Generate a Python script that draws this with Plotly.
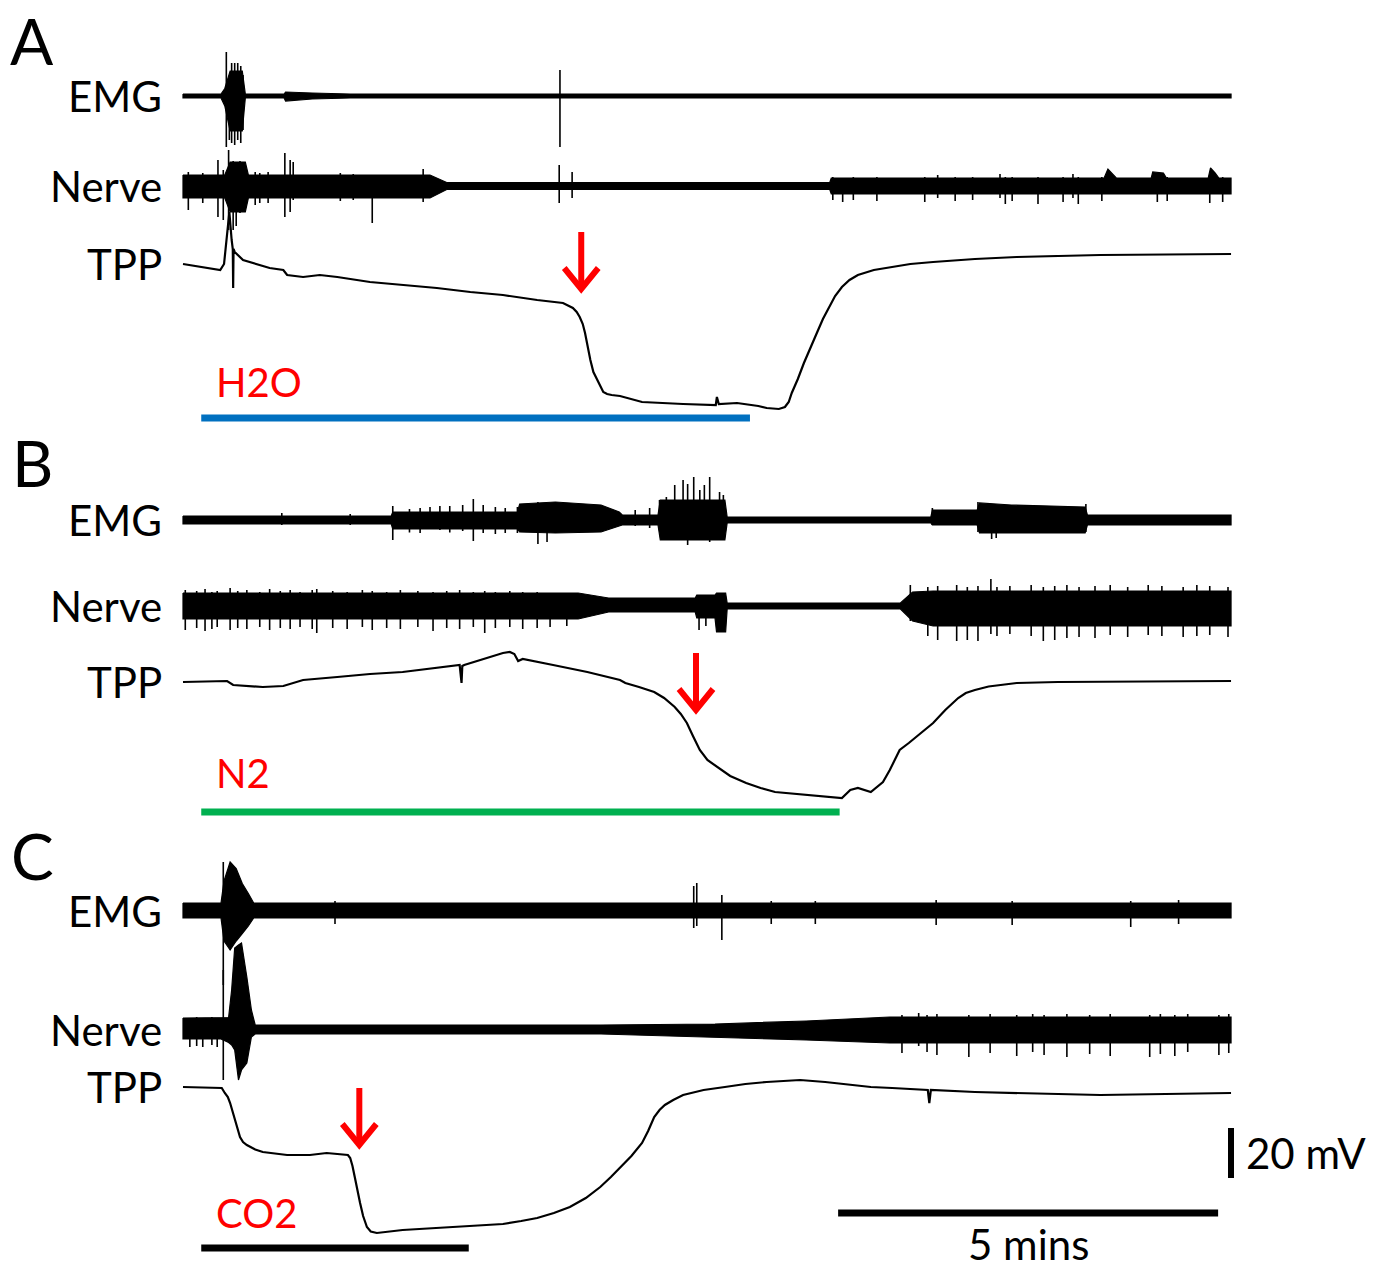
import plotly.graph_objects as go

# ---------------- DATA (time in minutes, voltage in mV relative to each trace's baseline) ----------------
# ---- Panel A (H2O) ----
A_TPP_T = [0, 0.49, 0.54, 0.58, 0.61, 0.64, 0.655, 0.66, 0.665, 0.68, 0.79, 1.14, 1.32, 1.37, 1.58, 1.80,
           2.03, 2.46, 2.89, 3.34, 3.78, 4.21, 4.66, 5.00, 5.13, 5.18, 5.22, 5.26, 5.29, 5.32, 5.36, 5.40,
           5.45, 5.49, 5.53, 5.58, 5.64, 5.75, 6.04, 6.58, 7.01, 7.025, 7.05, 7.29, 7.57, 7.68, 7.76, 7.84,
           7.92, 7.97, 8.01, 8.09, 8.17, 8.25, 8.34, 8.42, 8.50, 8.58, 8.67, 8.77, 8.88, 9.09, 9.33, 9.57,
           9.87, 10.42, 10.97, 12.07, 13.79]
A_TPP_V = [0, -2.4, 0, 12.0, 20.8, 9.6, 6.0, -9.6, 6.0, 4.8, 1.6, -1.6, -2.4, -4.4, -5.2, -4.4,
           -5.2, -7.2, -8.4, -9.6, -11.2, -12.4, -14.4, -15.6, -17.6, -19.2, -21.2, -24.0, -27.6, -32.4, -38.4, -43.2,
           -46.4, -49.2, -51.2, -52.0, -52.4, -52.8, -55.2, -56.0, -56.4, -53.2, -56.0, -55.6, -56.8, -57.6, -57.8, -58.0,
           -57.2, -55.2, -51.6, -46.0, -39.6, -33.6, -27.6, -22.0, -17.2, -12.8, -9.2, -6.4, -4.4, -2.4, -1.2, 0.0,
           0.8, 2.0, 2.8, 3.6, 4.0]

A_EMG_T = [0, 0.50, 0.55, 0.62, 0.78, 0.82, 1.33, 1.35, 1.7, 2.2, 13.79]
A_EMG_HI = [0.8, 0.8, 3.0, 10.0, 10.0, 0.8, 0.8, 1.6, 1.2, 0.8, 0.8]
A_EMG_LO = [-0.8, -0.8, -4.0, -14.0, -14.0, -0.8, -0.8, -2.0, -1.2, -0.8, -0.8]
A_EMG_SPK_T = [0.57, 0.61, 0.64, 0.68, 0.72, 0.76, 0.79, 4.96]
A_EMG_SPK_HI = [17.6, 6.4, 13.2, 13.2, 13.2, 12.0, 8.4, 10.4]
A_EMG_SPK_LO = [-20.4, -17.6, -18.8, -19.6, -17.6, -18.8, -13.6, -20.4]

A_NRV_T = [0, 0.55, 0.62, 0.82, 0.86, 3.25, 3.47, 8.51, 8.53, 12.12, 12.17, 12.22, 12.28, 12.74, 12.76,
           12.90, 12.94, 13.49, 13.52, 13.58, 13.63, 13.79]
A_NRV_HI = [4.4, 4.4, 9.6, 9.6, 4.4, 4.4, 1.4, 1.4, 3.2, 3.2, 6.8, 5.2, 3.2, 3.2, 5.6,
            5.2, 3.2, 3.2, 7.2, 5.2, 3.2, 3.2]
A_NRV_LO = [-4.8, -4.8, -10.4, -10.4, -4.8, -4.8, -1.4, -1.4, -3.2, -3.2, -3.2, -3.2, -3.2, -3.2, -3.2,
            -3.2, -3.2, -3.2, -3.2, -3.2, -3.2, -3.2]
A_NRV_SPK_T = [0.07, 0.26, 0.46, 0.53, 0.60, 0.66, 0.70, 0.75, 0.95, 1.01, 1.12, 1.34, 1.41, 1.45, 2.07,
               2.24, 2.49, 3.16, 4.95, 5.12, 8.55, 8.68, 8.82, 9.13, 9.76, 9.93, 10.16, 10.39, 10.75, 10.82,
               10.91, 11.25, 11.58, 11.71, 11.78, 12.09, 12.82, 12.95, 13.51, 13.68]
A_NRV_SPK_HI = [5.6, 5.2, 10.4, 6.4, 14.4, 10.0, 9.6, 10.0, 5.6, 5.2, 5.6, 13.2, 10.4, 9.6, 5.2,
                4.8, 2.4, 6.8, 8.4, 5.6, 3.6, 3.2, 3.6, 3.6, 3.6, 4.4, 3.6, 3.6, 4.8, 3.6,
                3.6, 3.6, 3.6, 4.8, 3.6, 3.6, 3.6, 3.6, 3.6, 3.6]
A_NRV_SPK_LO = [-9.6, -6.8, -12.4, -13.6, -17.6, -17.6, -16.0, -10.8, -7.6, -6.8, -6.8, -12.4, -10.4, -5.6, -6.0,
                -5.6, -14.8, -6.4, -6.8, -4.8, -5.6, -6.4, -5.6, -6.0, -6.4, -4.8, -6.0, -5.6, -4.8, -7.2,
                -6.0, -7.2, -6.4, -4.8, -7.2, -6.0, -6.4, -6.0, -6.8, -6.4]

# ---- Panel B (N2) ----
B_TPP_T = [0, 0.58, 0.66, 1.05, 1.32, 1.58, 2.03, 2.46, 2.89, 3.34, 3.64, 3.665, 3.675, 3.70, 3.78, 4.00,
           4.21, 4.30, 4.36, 4.41, 4.47, 4.87, 5.32, 5.75, 5.82, 6.00, 6.20, 6.33, 6.47, 6.55, 6.63, 6.71,
           6.80, 6.90, 7.03, 7.20, 7.41, 7.60, 7.79, 8.22, 8.67, 8.78, 8.88, 9.05, 9.21, 9.30, 9.43, 9.55,
           9.70, 9.87, 10.03, 10.20, 10.30, 10.42, 10.60, 10.97, 11.51, 13.79]
B_TPP_V = [0, 0.4, -1.2, -2.0, -1.6, 0.8, 2.0, 3.2, 4.0, 5.6, 6.8, -0.4, 6.4, 6.8, 7.6, 9.6,
           11.6, 12.0, 11.2, 8.4, 9.2, 6.8, 4.0, 0.8, -0.4, -2.0, -4.0, -6.4, -10.0, -12.8, -16.4, -21.6,
           -27.2, -31.2, -34.0, -37.6, -40.4, -42.4, -44.0, -45.2, -46.4, -43.2, -42.4, -44.0, -40.0, -35.2, -27.2, -24.4,
           -20.8, -16.4, -11.2, -6.4, -4.4, -3.2, -1.8, -0.4, 0.0, 0.4]

B_EMG_T = [0, 2.74, 2.76, 4.40, 4.43, 4.9, 5.5, 5.74, 5.78, 6.25, 6.28, 7.13, 7.16, 9.84, 9.86, 10.45,
           10.48, 10.9, 11.87, 11.90, 13.79]
B_EMG_HI = [1.6, 1.6, 3.2, 3.2, 6.4, 7.2, 6.0, 3.2, 2.0, 2.0, 8.0, 8.0, 1.2, 1.2, 4.0, 4.0,
            6.8, 6.0, 5.2, 2.0, 2.0]
B_EMG_LO = [-1.6, -1.6, -3.6, -3.6, -4.8, -5.2, -4.8, -2.4, -2.0, -2.0, -8.0, -8.0, -1.2, -1.2, -2.0, -2.0,
            -5.2, -5.2, -5.2, -2.0, -2.0]
B_EMG_SPK_T = [1.3, 2.2, 2.76, 2.98, 3.12, 3.25, 3.38, 3.51, 3.68, 3.82, 3.95, 4.11, 4.24, 4.40, 4.67,
               4.79, 5.95, 6.14, 6.27, 6.36, 6.47, 6.58, 6.64, 6.72, 6.80, 6.86, 6.93, 7.01, 7.06, 7.11,
               9.86, 10.46, 10.64, 10.70, 11.88]
B_EMG_SPK_HI = [2.8, 2.4, 5.6, 4.4, 4.8, 5.2, 5.6, 5.6, 6.0, 8.4, 6.0, 5.2, 4.8, 5.2, 7.2,
                6.8, 4.0, 4.8, 8.0, 9.2, 14.0, 16.0, 14.4, 17.2, 12.0, 14.0, 17.2, 8.0, 11.2, 10.0,
                4.8, 7.2, 6.4, 6.0, 6.4]
B_EMG_SPK_LO = [-2.0, -2.0, -8.0, -5.0, -5.2, -3.6, -4.0, -5.0, -4.4, -8.4, -5.2, -5.6, -5.2, -5.2, -9.6,
                -8.8, -2.4, -3.2, -4.0, -6.0, -8.0, -7.2, -10.0, -8.0, -6.0, -8.0, -8.8, -6.0, -8.0, -6.0,
                -2.0, -4.8, -7.6, -7.2, -4.8]

B_NRV_T = [0, 5.2, 5.6, 6.74, 6.76, 7.0, 7.02, 7.14, 7.16, 9.44, 9.6, 9.87, 13.79]
B_NRV_HI = [5.2, 5.2, 3.2, 3.2, 4.4, 4.4, 5.2, 5.2, 1.2, 1.2, 5.6, 6.0, 6.0]
B_NRV_LO = [-5.2, -5.2, -2.4, -2.4, -4.8, -4.8, -10.4, -10.4, -1.2, -1.2, -6.0, -8.0, -8.0]
B_NRV_SPK_T = [0.03, 0.18, 0.29, 0.38, 0.45, 0.62, 0.72, 0.84, 1.01, 1.14, 1.28, 1.41, 1.54, 1.70, 1.76,
               1.97, 2.16, 2.36, 2.49, 2.68, 2.86, 3.09, 3.29, 3.47, 3.64, 3.82, 3.97, 4.11, 4.30, 4.47,
               4.66, 4.83, 5.05, 6.79, 6.88, 9.57, 9.80, 9.93, 10.18, 10.32, 10.46, 10.63, 10.71, 10.88,
               11.16, 11.32, 11.47, 11.63, 11.79, 12.0, 12.2, 12.43, 12.7, 12.88, 13.16, 13.34, 13.51, 13.75]
B_NRV_SPK_HI = [6.4, 6.0, 6.8, 5.6, 6.0, 7.2, 6.0, 6.4, 5.6, 6.8, 6.0, 6.4, 5.6, 6.4, 6.8,
                6.0, 5.6, 6.4, 6.0, 5.6, 6.4, 6.0, 5.6, 6.0, 6.4, 5.6, 6.0, 5.6, 6.0, 5.6,
                5.6, 5.2, 5.2, 3.2, 4.4, 8.4, 7.6, 8.0, 8.4, 7.6, 8.0, 10.8, 7.6, 8.0,
                8.4, 7.6, 8.0, 8.4, 7.6, 8.0, 8.4, 7.6, 8.4, 8.0, 7.6, 8.4, 8.0, 7.6]
B_NRV_SPK_LO = [-9.6, -8.8, -10.0, -9.2, -8.4, -9.6, -8.8, -9.2, -8.4, -9.6, -8.8, -9.2, -8.4, -9.2, -10.8,
                -8.8, -9.2, -8.4, -9.6, -8.8, -9.2, -8.4, -10.0, -8.8, -9.2, -8.4, -10.8, -8.8, -8.4, -9.2,
                -8.8, -8.4, -8.0, -9.6, -8.0, -6.0, -12.0, -13.6, -14.0, -13.6, -14.0, -11.2, -12.0, -11.2,
                -12.0, -14.0, -13.6, -12.8, -12.4, -12.8, -11.6, -12.4, -11.6, -12.0, -12.4, -12.0, -11.6, -12.4]

# ---- Panel C (CO2) ----
C_TPP_T = [0, 0.51, 0.55, 0.59, 0.62, 0.65, 0.68, 0.72, 0.75, 0.79, 0.84, 0.95, 1.05, 1.37, 1.67, 1.89,
           2.11, 2.17, 2.20, 2.23, 2.26, 2.29, 2.33, 2.37, 2.42, 2.47, 2.55, 2.89, 3.34, 3.80, 4.21, 4.45,
           4.66, 4.88, 5.09, 5.30, 5.49, 5.63, 5.76, 5.90, 6.04, 6.12, 6.20, 6.27, 6.34, 6.45, 6.58, 6.85,
           7.13, 7.40, 7.68, 8.12, 8.45, 8.78, 9.05, 9.33, 9.80, 9.82, 9.84, 10.42, 12.07, 13.79]
C_TPP_V = [0, -0.4, -2.4, -4.0, -6.4, -9.6, -13.2, -17.2, -20.0, -22.0, -23.2, -25.0, -26.0, -27.2, -27.2, -26.4,
           -26.8, -27.2, -28.4, -31.6, -36.0, -41.2, -46.4, -51.6, -56.0, -57.8, -58.4, -57.2, -56.4, -55.6, -54.8, -53.6,
           -52.4, -50.4, -48.0, -44.4, -40.0, -36.0, -32.0, -27.6, -22.4, -17.6, -12.0, -9.2, -7.2, -5.2, -3.2, -1.2,
           0.0, 1.2, 2.0, 2.8, 2.0, 0.8, 0.0, -0.4, -1.2, -6.4, -1.2, -2.0, -3.2, -2.4]

C_EMG_T = [0, 0.50, 0.54, 0.62, 0.70, 0.78, 0.86, 0.93, 13.79]
C_EMG_HI = [3.2, 3.2, 12.0, 19.6, 17.0, 11.0, 7.0, 3.2, 3.2]
C_EMG_LO = [-2.8, -2.8, -12.0, -15.6, -12.0, -9.0, -6.0, -2.8, -2.8]
C_EMG_SPK_T = [0.53, 2.0, 6.72, 6.76, 7.09, 7.74, 8.32, 9.91, 10.91, 12.47, 13.1]
C_EMG_SPK_HI = [19.6, 4.0, 10.0, 11.2, 6.4, 4.0, 4.0, 4.4, 4.0, 4.0, 4.4]
C_EMG_SPK_LO = [-29.6, -5.2, -6.8, -6.0, -11.6, -5.2, -5.2, -5.6, -5.6, -6.4, -5.2]

C_NRV_T = [0, 0.50, 0.60, 0.64, 0.68, 0.73, 0.77, 0.84, 0.90, 0.95, 5.5, 7.0, 8.2, 9.3, 13.79]
C_NRV_HI = [4.8, 4.8, 5.0, 16.0, 32.8, 34.0, 34.8, 21.2, 8.0, 2.0, 2.0, 2.4, 3.6, 5.2, 5.2]
C_NRV_LO = [-3.6, -3.6, -5.0, -6.0, -8.0, -20.0, -16.0, -13.2, -2.8, -1.6, -1.6, -2.8, -4.0, -5.2, -5.2]
C_NRV_SPK_T = [0.09, 0.18, 0.26, 0.38, 0.45, 0.53, 9.46, 9.68, 9.79, 9.92, 10.34, 10.62, 10.97, 11.18,
               11.33, 11.63, 11.93, 12.20, 12.72, 12.86, 13.05, 13.22, 13.63, 13.76]
C_NRV_SPK_HI = [4.8, 5.2, 4.8, 5.2, 4.8, 24.0, 6.0, 6.8, 6.0, 6.4, 6.0, 6.4, 6.0, 6.4,
                6.0, 6.4, 6.0, 6.4, 6.0, 6.4, 6.0, 6.4, 6.0, 6.4]
C_NRV_SPK_LO = [-6.8, -6.4, -6.8, -6.0, -6.8, -20.0, -9.2, -6.4, -8.8, -10.0, -10.8, -9.2, -10.4, -8.8,
                -10.0, -10.8, -9.6, -10.4, -10.8, -9.6, -10.4, -8.8, -10.0, -9.2]

# Gas application periods (min), arrow times (min), labels, scale bars
GAS_NAMES = ["H2O", "N2", "CO2"]
GAS_START = [0.24, 0.24, 0.24]
GAS_END = [7.46, 8.64, 3.76]
ARROW_T = [5.24, 6.75, 2.32]
PANEL_LABELS = ["A", "B", "C"]
CHANNEL_LABELS = ["EMG", "Nerve", "TPP"]
SCALE_TIME_MIN = 5
SCALE_VOLT_MV = 20

# ---------------- LAYOUT / GEOMETRY ----------------
W, H = 1390, 1270
X0_PX = 183.0          # pixel where traces start
PX_PER_MIN = 76.0
PX_PER_MV = 2.5


def px2x(px):
    return (px - X0_PX) / PX_PER_MIN


def px2y(py):
    return -py / PX_PER_MV


BASE_PX = [(96, 186, 264), (520, 606, 682), (911, 1030, 1087)]
LETTER_PX = [(32, 40), (32, 462), (32, 855)]
GAS_LABEL_PY = [382, 773, 1213]
GAS_BAR_PY = [418, 812, 1248]
GAS_COLORS = ["#0070C0", "#00B050", "#000000"]
ARROW_TIP_PY = [289, 710, 1145]
ARROW_LEN = 57
FONT = "Lato, 'Open Sans', sans-serif"
RED = "#FF0000"

panels = [
    dict(tpp=(A_TPP_T, A_TPP_V),
         emg=(A_EMG_T, A_EMG_HI, A_EMG_LO), emg_spk=(A_EMG_SPK_T, A_EMG_SPK_HI, A_EMG_SPK_LO),
         nrv=(A_NRV_T, A_NRV_HI, A_NRV_LO), nrv_spk=(A_NRV_SPK_T, A_NRV_SPK_HI, A_NRV_SPK_LO)),
    dict(tpp=(B_TPP_T, B_TPP_V),
         emg=(B_EMG_T, B_EMG_HI, B_EMG_LO), emg_spk=(B_EMG_SPK_T, B_EMG_SPK_HI, B_EMG_SPK_LO),
         nrv=(B_NRV_T, B_NRV_HI, B_NRV_LO), nrv_spk=(B_NRV_SPK_T, B_NRV_SPK_HI, B_NRV_SPK_LO)),
    dict(tpp=(C_TPP_T, C_TPP_V),
         emg=(C_EMG_T, C_EMG_HI, C_EMG_LO), emg_spk=(C_EMG_SPK_T, C_EMG_SPK_HI, C_EMG_SPK_LO),
         nrv=(C_NRV_T, C_NRV_HI, C_NRV_LO), nrv_spk=(C_NRV_SPK_T, C_NRV_SPK_HI, C_NRV_SPK_LO)),
]

for p in panels:
    for key in ("tpp", "emg", "emg_spk", "nrv", "nrv_spk"):
        lens = {len(a) for a in p[key]}
        if len(lens) != 1:
            raise ValueError(f"length mismatch in {key}: {[len(a) for a in p[key]]}")

fig = go.Figure()


def add_band(t, hi, lo, off):
    xs = list(t) + list(reversed(t)) + [t[0]]
    ys = [off + v for v in hi] + [off + v for v in reversed(lo)] + [off + hi[0]]
    fig.add_trace(go.Scatter(x=xs, y=ys, mode="lines", fill="toself", fillcolor="black",
                             line=dict(color="black", width=1.2), hoverinfo="skip"))


def add_spikes(t, hi, lo, off):
    xs, ys = [], []
    for ti, h, l in zip(t, hi, lo):
        xs += [ti, ti, None]
        ys += [off + h, off + l, None]
    fig.add_trace(go.Scatter(x=xs, y=ys, mode="lines", line=dict(color="black", width=1.6),
                             hoverinfo="skip"))


annotations = []
shapes = []
LABEL_SIZE = 42

for i, p in enumerate(panels):
    emg_b, nrv_b, tpp_b = BASE_PX[i]
    add_band(*p["emg"], px2y(emg_b))
    add_spikes(*p["emg_spk"], px2y(emg_b))
    add_band(*p["nrv"], px2y(nrv_b))
    add_spikes(*p["nrv_spk"], px2y(nrv_b))
    tt, tv = p["tpp"]
    fig.add_trace(go.Scatter(x=tt, y=[px2y(tpp_b) + v for v in tv], mode="lines",
                             line=dict(color="black", width=2.2), hoverinfo="skip"))

    # channel labels
    for lab, by in zip(CHANNEL_LABELS, BASE_PX[i]):
        annotations.append(dict(x=px2x(164), y=px2y(by), text=lab, showarrow=False,
                                xanchor="right", yanchor="middle",
                                font=dict(family=FONT, size=LABEL_SIZE, color="black")))
    # panel letter
    lx, ly = LETTER_PX[i]
    annotations.append(dict(x=px2x(lx), y=px2y(ly), text=PANEL_LABELS[i], showarrow=False,
                            xanchor="center", yanchor="middle",
                            font=dict(family=FONT, size=64, color="black")))
    # gas label and bar
    annotations.append(dict(x=px2x(214), y=px2y(GAS_LABEL_PY[i]), text=GAS_NAMES[i], showarrow=False,
                            xanchor="left", yanchor="middle",
                            font=dict(family=FONT, size=40, color=RED)))
    shapes.append(dict(type="line", xref="x", yref="y", x0=GAS_START[i], x1=GAS_END[i],
                       y0=px2y(GAS_BAR_PY[i]), y1=px2y(GAS_BAR_PY[i]),
                       line=dict(color=GAS_COLORS[i], width=7)))
    # red arrow
    ax = ARROW_T[i]
    tip = ARROW_TIP_PY[i]
    shapes.append(dict(type="line", xref="x", yref="y", x0=ax, x1=ax,
                       y0=px2y(tip - ARROW_LEN), y1=px2y(tip - 3),
                       line=dict(color=RED, width=6)))
    axp = X0_PX + ax * PX_PER_MIN
    shapes.append(dict(type="path", xref="x", yref="y",
                       path=f"M {px2x(axp - 17)} {px2y(tip - 21)} L {px2x(axp)} {px2y(tip)} "
                            f"L {px2x(axp + 17)} {px2y(tip - 21)}",
                       line=dict(color=RED, width=6)))

# scale bars
t_end = 13.62
shapes.append(dict(type="line", xref="x", yref="y", x0=t_end - SCALE_TIME_MIN, x1=t_end,
                   y0=px2y(1213), y1=px2y(1213), line=dict(color="black", width=7)))
annotations.append(dict(x=t_end - SCALE_TIME_MIN / 2, y=px2y(1244), text=f"{SCALE_TIME_MIN} mins",
                        showarrow=False, xanchor="center", yanchor="middle",
                        font=dict(family=FONT, size=LABEL_SIZE, color="black")))
vb_bottom = px2y(1178)
shapes.append(dict(type="line", xref="x", yref="y", x0=px2x(1231), x1=px2x(1231),
                   y0=vb_bottom, y1=vb_bottom + SCALE_VOLT_MV, line=dict(color="black", width=6)))
annotations.append(dict(x=px2x(1244), y=px2y(1153), text=f"{SCALE_VOLT_MV} mV", showarrow=False,
                        xanchor="left", yanchor="middle",
                        font=dict(family=FONT, size=LABEL_SIZE, color="black")))

fig.update_layout(
    width=W, height=H, margin=dict(l=0, r=0, t=0, b=0),
    paper_bgcolor="white", plot_bgcolor="white", showlegend=False,
    xaxis=dict(range=[px2x(0), px2x(W)], visible=False, fixedrange=True),
    yaxis=dict(range=[px2y(H), px2y(0)], visible=False, fixedrange=True),
    annotations=annotations, shapes=shapes,
)

fig.write_html("out.html", config={"displayModeBar": False},
               post_script="document.body.style.margin='0';document.body.style.overflow='hidden';")
